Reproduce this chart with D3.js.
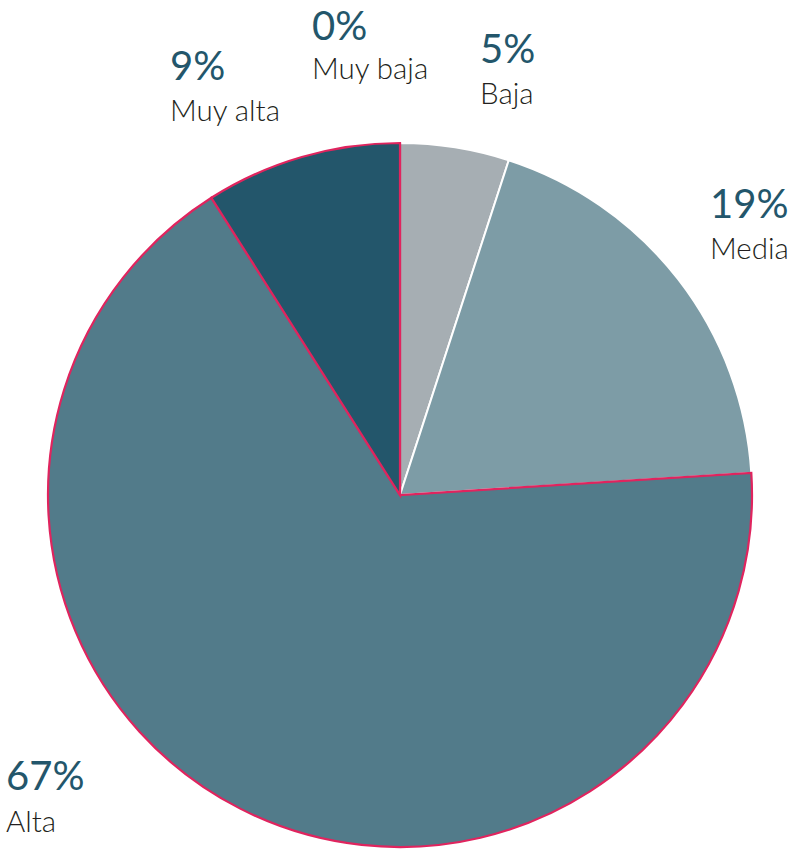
<!DOCTYPE html>
<html>
<head>
<meta charset="utf-8">
<script src="https://cdn.jsdelivr.net/npm/d3@7"></script>
<style>
  html, body { margin: 0; padding: 0; background: #ffffff; }
  svg { display: block; }
  .pct { font-family: Lato, "Open Sans", sans-serif; font-size: 40px; font-weight: 400; fill: #23566b; }
  .lbl { font-family: Lato, "Open Sans", sans-serif; font-size: 29.5px; font-weight: 300; fill: #231f20; }
</style>
</head>
<body>
<svg id="chart" width="791" height="850"></svg>
<script>
// Share of responses by level, clockwise from twelve o'clock
const categories = ["Muy baja", "Baja", "Media", "Alta", "Muy alta"];
const values = [0, 5, 19, 67, 9];
const valueLabels = ["0%", "5%", "19%", "67%", "9%"];

// Slice fills and outlines
const fills = {"Muy baja": "#23566b", "Baja": "#a6aeb3", "Media": "#7d9ca6", "Alta": "#527b8a", "Muy alta": "#23566b"};
const strokes = {"Muy baja": "#e0245e", "Baja": "#ffffff", "Media": "#ffffff", "Alta": "#e0245e", "Muy alta": "#e0245e"};
const strokeWidths = {"Muy baja": 2.2, "Baja": 2, "Media": 2, "Alta": 2.2, "Muy alta": 2.2};

// Label anchors: left edge, baseline of the percentage, gap down to the name
const labelPos = {
  "Muy baja": [312, 40, 39],
  "Baja": [480, 63, 41],
  "Media": [710, 218, 41],
  "Alta": [6, 790, 42],
  "Muy alta": [170, 80, 41]
};

const svg = d3.select("#chart");
const cx = 400, cy = 495, radius = 352;

const data = categories.map((c, i) => ({ name: c, value: values[i], label: valueLabels[i] }));

const pie = d3.pie().value(d => d.value).sort(null).startAngle(0).endAngle(2 * Math.PI);
const arcs = pie(data);
const arc = d3.arc().innerRadius(0).outerRadius(radius);

const g = svg.append("g").attr("transform", `translate(${cx},${cy})`);

// White-outlined slices first so the highlighted outlines sit on top
const ordered = arcs.slice().sort((a, b) =>
  (strokes[a.data.name] === "#ffffff" ? 0 : 1) - (strokes[b.data.name] === "#ffffff" ? 0 : 1));

g.selectAll("path.slice")
  .data(ordered)
  .join("path")
  .attr("class", "slice")
  .attr("d", arc)
  .attr("fill", d => fills[d.data.name])
  .attr("stroke", d => strokes[d.data.name])
  .attr("stroke-width", d => strokeWidths[d.data.name])
  .attr("stroke-linejoin", "miter");

const labels = svg.selectAll("g.label")
  .data(data)
  .join("g")
  .attr("class", "label")
  .attr("transform", d => `translate(${labelPos[d.name][0]},${labelPos[d.name][1]})`);

labels.append("text").attr("class", "pct").text(d => d.label);
labels.append("text").attr("class", "lbl").attr("y", d => labelPos[d.name][2]).text(d => d.name);
</script>
</body>
</html>
